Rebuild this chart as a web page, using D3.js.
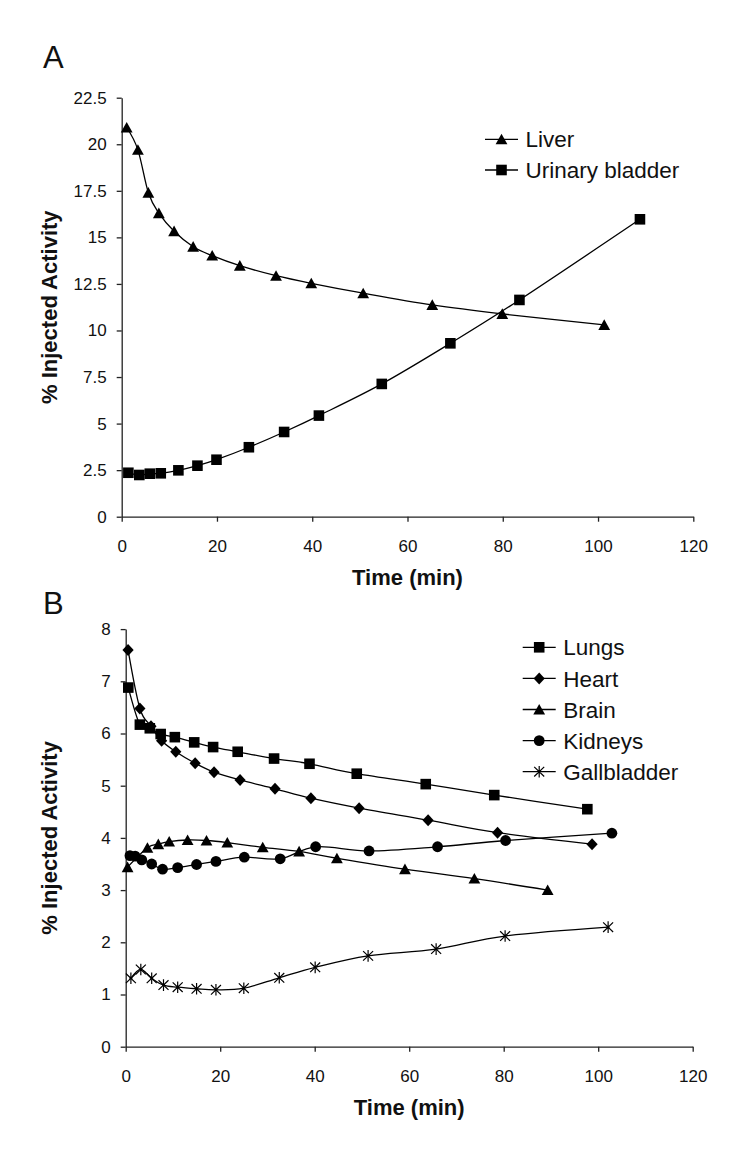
<!DOCTYPE html>
<html><head><meta charset="utf-8">
<script src="https://cdn.jsdelivr.net/npm/d3@7"></script>
<style>
body{margin:0;background:#fff}
svg{display:block}
text{font-family:"Liberation Sans",Arial,Helvetica,sans-serif;fill:#111}
</style>
</head><body>
<svg id="chart" width="750" height="1155"></svg>
<script>
// ---------- data ----------
const xTickValues = [0, 20, 40, 60, 80, 100, 120];
const yTicksA = [0, 2.5, 5, 7.5, 10, 12.5, 15, 17.5, 20, 22.5];
const yTicksB = [0, 1, 2, 3, 4, 5, 6, 7, 8];

const liverTime   = [1.05, 3.4, 5.6, 7.8, 11.0, 15.0, 19.0, 24.8, 32.4, 39.8, 50.7, 65.2, 79.9, 101.3];
const liverValues = [20.9, 19.7, 17.4, 16.3, 15.33, 14.5, 14.02, 13.48, 12.94, 12.53, 12.0, 11.37, 10.89, 10.3];

const bladderTime   = [1.4, 3.7, 5.9, 8.2, 11.9, 15.9, 19.9, 26.7, 34.1, 41.4, 54.6, 69.0, 83.5, 108.8];
const bladderValues = [2.36, 2.24, 2.31, 2.33, 2.49, 2.74, 3.06, 3.73, 4.55, 5.43, 7.13, 9.31, 11.64, 15.97];

const lungsTime   = [0.55, 3.0, 5.1, 7.4, 10.4, 14.5, 18.5, 23.7, 31.4, 38.9, 48.9, 63.5, 78.0, 97.7];
const lungsValues = [6.88, 6.17, 6.10, 5.99, 5.93, 5.83, 5.74, 5.65, 5.52, 5.42, 5.23, 5.03, 4.82, 4.55];

const heartTime   = [0.5, 3.0, 5.35, 7.6, 10.6, 14.7, 18.7, 24.2, 31.6, 39.2, 49.4, 64.0, 78.7, 98.7];
const heartValues = [7.6, 6.48, 6.14, 5.86, 5.65, 5.43, 5.26, 5.11, 4.94, 4.76, 4.57, 4.34, 4.10, 3.88];

const brainTime   = [0.4, 4.6, 6.9, 9.2, 13.1, 17.1, 21.5, 29.0, 36.7, 44.7, 59.1, 73.8, 89.3];
const brainValues = [3.44, 3.81, 3.88, 3.93, 3.96, 3.95, 3.91, 3.82, 3.74, 3.61, 3.40, 3.22, 3.0];

const kidneysTime   = [0.9, 2.0, 3.4, 5.5, 7.8, 11.0, 15.0, 19.1, 25.1, 32.7, 40.2, 51.5, 66.0, 80.4, 102.9];
const kidneysValues = [3.66, 3.65, 3.58, 3.50, 3.40, 3.43, 3.49, 3.55, 3.63, 3.60, 3.83, 3.75, 3.83, 3.95, 4.09];

const gallTime   = [1.1, 3.2, 5.5, 8.0, 11.0, 15.0, 19.1, 25.0, 32.5, 40.1, 51.3, 65.7, 80.3, 102.1];
const gallValues = [1.31, 1.48, 1.31, 1.18, 1.14, 1.11, 1.09, 1.12, 1.32, 1.52, 1.74, 1.87, 2.12, 2.29];

const legendA = ["Liver", "Urinary bladder"];
const legendB = ["Lungs", "Heart", "Brain", "Kidneys", "Gallbladder"];
const yTitle = "% Injected Activity";
const xTitle = "Time (min)";

// ---------- markers ----------
const triangle = {draw(c){ c.moveTo(0,-5.6); c.lineTo(5.9,5); c.lineTo(-5.9,5); c.closePath(); }};
const square   = {draw(c){ c.rect(-5.3,-5.3,10.6,10.6); }};
const diamond  = {draw(c){ c.moveTo(0,-6); c.lineTo(5.6,0); c.lineTo(0,6); c.lineTo(-5.6,0); c.closePath(); }};
const circle   = {draw(c){ c.moveTo(5.4,0); c.arc(0,0,5.4,0,2*Math.PI); }};
const star     = {draw(c){ c.moveTo(0,-5.8); c.lineTo(0,5.8); c.moveTo(-5,-4.8); c.lineTo(5,4.8); c.moveTo(-5,4.8); c.lineTo(5,-4.8); c.moveTo(1,0); c.arc(0,0,1,0,2*Math.PI); }};

const svg = d3.select("#chart");
svg.append("rect").attr("width",750).attr("height",1155).attr("fill","#fff");

function panel(cfg){
  const g = svg.append("g");
  const x = d3.scaleLinear().domain([0,120]).range(cfg.xr);
  const y = d3.scaleLinear().domain(cfg.yd).range(cfg.yr);

  const ax = g.append("g").attr("transform",`translate(0,${cfg.yr[0]})`)
    .call(d3.axisBottom(x).tickValues(xTickValues).tickSize(5).tickSizeOuter(0).tickPadding(18).tickFormat(d=>String(d)));
  const ay = g.append("g").attr("transform",`translate(${cfg.xr[0]},0)`)
    .call(d3.axisLeft(y).tickValues(cfg.yt).tickSize(5).tickSizeOuter(0).tickPadding(10).tickFormat(d=>String(d)));
  [ax,ay].forEach(a=>{
    a.selectAll("path,line").attr("stroke","#222").attr("stroke-width",1.3);
    a.selectAll("text").attr("font-size",17).attr("fill","#111")
      .style("font-family",'"Liberation Sans",Arial,sans-serif');
  });

  // titles
  g.append("text").attr("x",(cfg.xr[0]+cfg.xr[1])/2).attr("y",cfg.yr[0]+68)
    .attr("text-anchor","middle").attr("font-size",22).attr("font-weight","bold").text(xTitle);
  g.append("text").attr("transform",`translate(57,${(cfg.yr[0]+cfg.yr[1])/2}) rotate(-90)`)
    .attr("text-anchor","middle").attr("font-size",22).attr("font-weight","bold").text(yTitle);
  g.append("text").attr("x",43).attr("y",cfg.labelY).attr("font-size",31).text(cfg.label);

  const line = d3.line().x(d=>x(d[0])).y(d=>y(d[1])).curve(d3.curveCatmullRom.alpha(0));

  cfg.series.forEach(s=>{
    const pts = s.t.map((t,i)=>[t,s.v[i]]);
    g.append("path").datum(pts).attr("d",line).attr("fill","none").attr("stroke","#000").attr("stroke-width",1.3);
    const sym = d3.symbol().type(s.m);
    g.selectAll(null).data(pts).enter().append("path")
      .attr("transform",d=>`translate(${x(d[0])},${y(d[1])})`)
      .attr("d",sym())
      .attr("fill", s.m===star ? "none" : "#000")
      .attr("stroke","#000").attr("stroke-width", s.m===star ? 1.2 : 0);
  });

  // legend
  cfg.series.forEach((s,i)=>{
    const ly = cfg.leg.y0 + i*cfg.leg.dy;
    const lg = g.append("g").attr("transform",`translate(${cfg.leg.x},${ly})`);
    lg.append("line").attr("x1",0).attr("x2",33).attr("y1",0).attr("y2",0).attr("stroke","#000").attr("stroke-width",1.3);
    lg.append("path").attr("transform","translate(16.5,0)").attr("d",d3.symbol().type(s.m)())
      .attr("fill", s.m===star ? "none" : "#000").attr("stroke","#000").attr("stroke-width", s.m===star ? 1.2 : 0);
    lg.append("text").attr("x",40.5).attr("y",0).attr("dy","0.36em").attr("font-size",22.5).text(cfg.names[i]);
  });
}

panel({
  xr:[121.7,693.3], yd:[0,22.5], yr:[516.7,97.7], yt:yTicksA, label:"A", labelY:68,
  names:legendA, leg:{x:485, y0:139.3, dy:30.7},
  series:[
    {t:liverTime, v:liverValues, m:triangle},
    {t:bladderTime, v:bladderValues, m:square}
  ]
});

panel({
  xr:[125.7,692.7], yd:[0,8], yr:[1046.7,629.1], yt:yTicksB, label:"B", labelY:614,
  names:legendB, leg:{x:522.7, y0:647.3, dy:31.1},
  series:[
    {t:lungsTime, v:lungsValues, m:square},
    {t:heartTime, v:heartValues, m:diamond},
    {t:brainTime, v:brainValues, m:triangle},
    {t:kidneysTime, v:kidneysValues, m:circle},
    {t:gallTime, v:gallValues, m:star}
  ]
});
</script>
</body></html>
